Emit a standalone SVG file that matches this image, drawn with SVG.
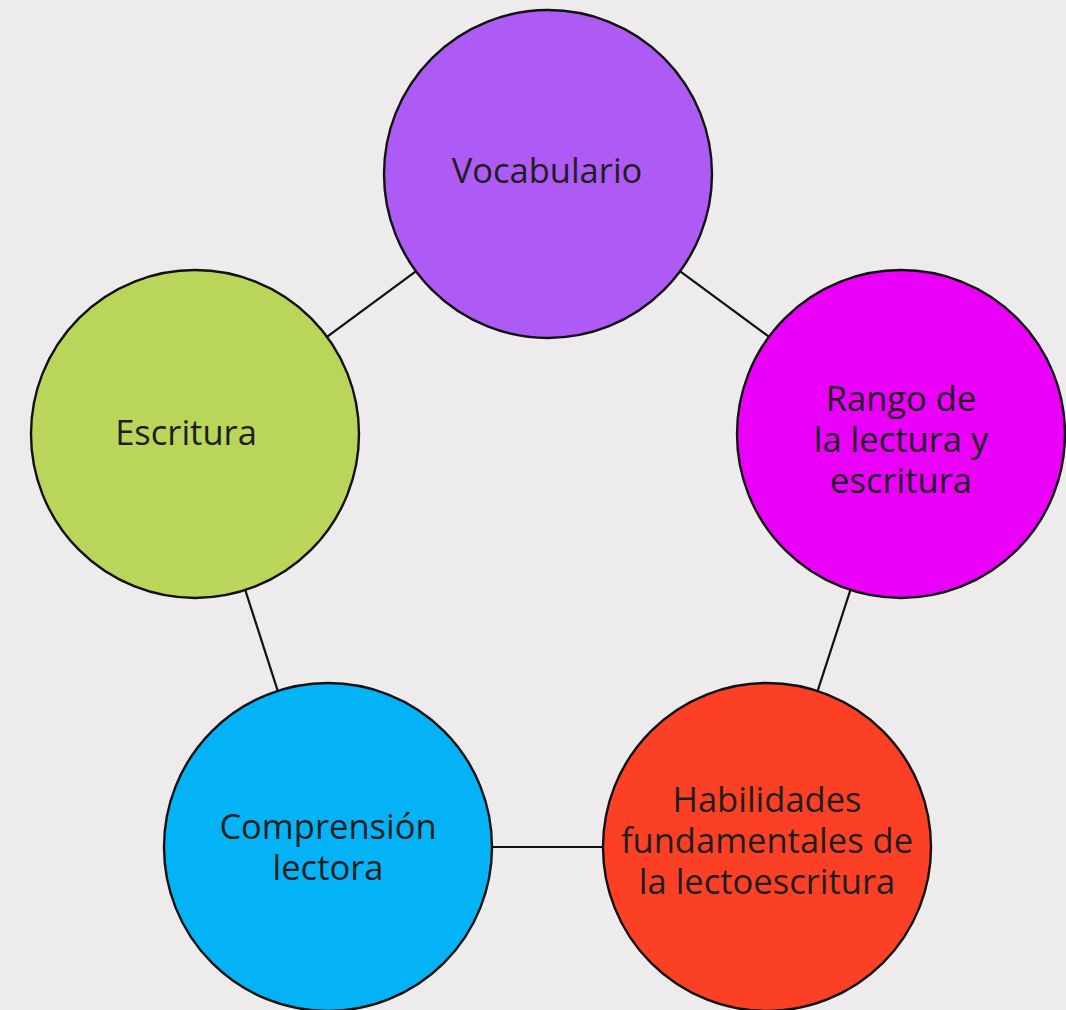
<svg xmlns="http://www.w3.org/2000/svg" width="1066" height="1010" viewBox="0 0 1066 1010">
<style>
.n{stroke:#111;stroke-width:2.4}
.t{font-family:"Open Sans","Noto Sans","Liberation Sans",sans-serif;font-size:34.5px;fill:#1e1e1e;text-anchor:middle}
.c{stroke:#111;stroke-width:2.2;fill:none}
</style>
<rect width="1066" height="1010" fill="#EDEBEB"/>
<g id="connectors">
<line class="c" x1="548" y1="174" x2="901" y2="434"/>
<line class="c" x1="548" y1="174" x2="195" y2="434"/>
<line class="c" x1="195" y1="434" x2="328" y2="847"/>
<line class="c" x1="901" y1="434" x2="767" y2="847"/>
<line class="c" x1="328" y1="847" x2="767" y2="847"/>
</g>
<g id="vocabulario">
<circle class="n" cx="548" cy="174" r="164" fill="#AE5BF5"/>
<text class="t" x="547" y="183">Vocabulario</text>
</g>
<g id="rango">
<circle class="n" cx="901" cy="434" r="164" fill="#EA00F9"/>
<text class="t" x="901" y="411">Rango de</text>
<text class="t" x="901" y="452">la lectura y</text>
<text class="t" x="901" y="493">escritura</text>
</g>
<g id="habilidades">
<circle class="n" cx="767" cy="847" r="164" fill="#FB4025"/>
<text class="t" x="767" y="812">Habilidades</text>
<text class="t" x="767" y="853">fundamentales de</text>
<text class="t" x="767" y="894">la lectoescritura</text>
</g>
<g id="comprension">
<circle class="n" cx="328" cy="847" r="164" fill="#04B3F5"/>
<text class="t" x="328" y="839">Comprensión</text>
<text class="t" x="328" y="880">lectora</text>
</g>
<g id="escritura">
<circle class="n" cx="195" cy="434" r="164" fill="#B9D55A"/>
<text class="t" x="186" y="445">Escritura</text>
</g>
</svg>
